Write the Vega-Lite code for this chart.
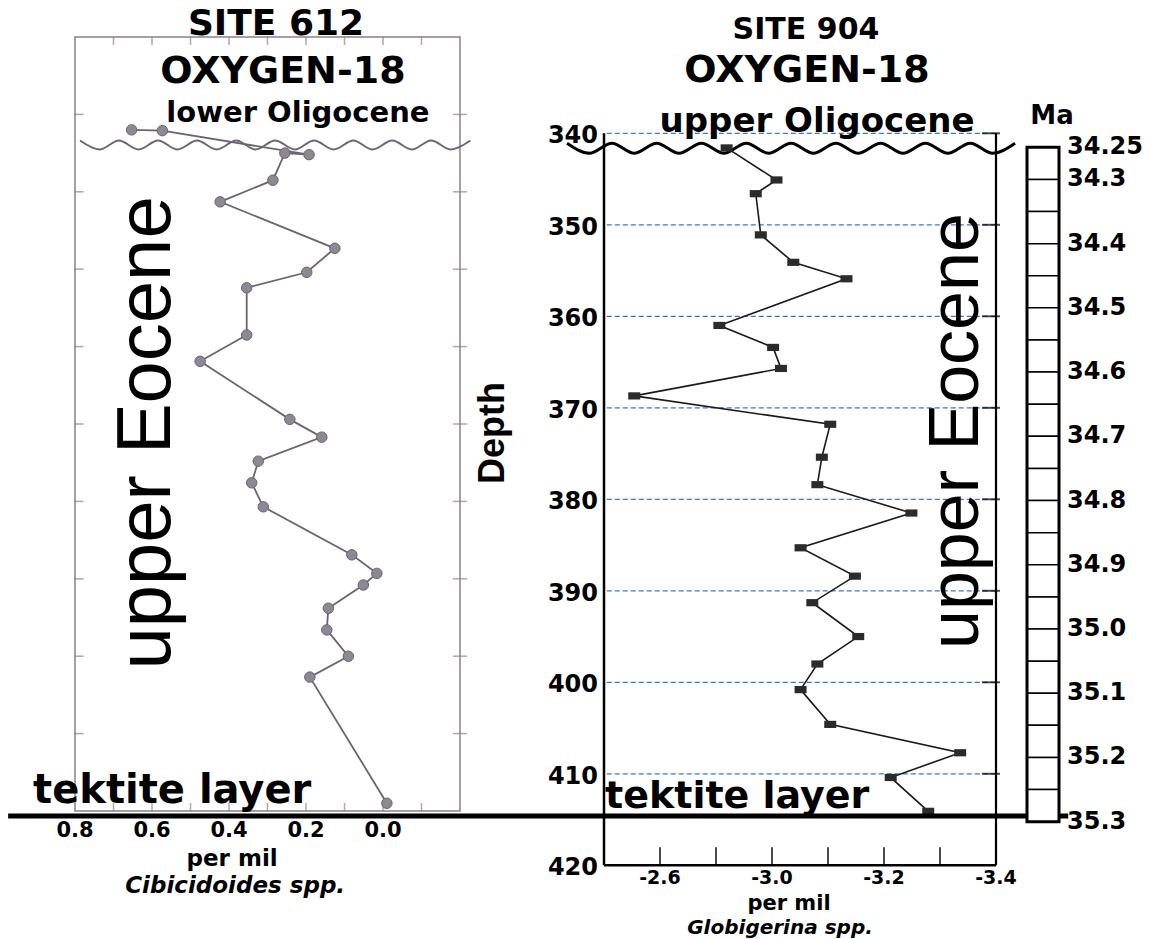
{
  "$schema": "https://vega.github.io/schema/vega-lite/v6.json",
  "width": 1173,
  "height": 939,
  "padding": 0,
  "autosize": {"type": "none"},
  "background": "white",
  "config": {
    "view": {"stroke": null},
    "text": {"font": "DejaVu Sans", "fontWeight": "bold", "color": "#000"}
  },
  "datasets": {
    "site612": [
      {"i": 1, "lvl": 1.20, "d18O": 0.653},
      {"i": 2, "lvl": 1.21, "d18O": 0.573},
      {"i": 3, "lvl": 1.52, "d18O": 0.192},
      {"i": 4, "lvl": 1.50, "d18O": 0.255},
      {"i": 5, "lvl": 1.85, "d18O": 0.286},
      {"i": 6, "lvl": 2.13, "d18O": 0.423},
      {"i": 7, "lvl": 2.73, "d18O": 0.125},
      {"i": 8, "lvl": 3.04, "d18O": 0.198},
      {"i": 9, "lvl": 3.24, "d18O": 0.354},
      {"i": 10, "lvl": 3.85, "d18O": 0.354},
      {"i": 11, "lvl": 4.19, "d18O": 0.475},
      {"i": 12, "lvl": 4.94, "d18O": 0.242},
      {"i": 13, "lvl": 5.17, "d18O": 0.159},
      {"i": 14, "lvl": 5.48, "d18O": 0.324},
      {"i": 15, "lvl": 5.76, "d18O": 0.341},
      {"i": 16, "lvl": 6.07, "d18O": 0.311},
      {"i": 17, "lvl": 6.69, "d18O": 0.081},
      {"i": 18, "lvl": 6.93, "d18O": 0.016},
      {"i": 19, "lvl": 7.08, "d18O": 0.051},
      {"i": 20, "lvl": 7.38, "d18O": 0.142},
      {"i": 21, "lvl": 7.66, "d18O": 0.146},
      {"i": 22, "lvl": 8.00, "d18O": 0.090},
      {"i": 23, "lvl": 8.27, "d18O": 0.190},
      {"i": 24, "lvl": 9.90, "d18O": -0.010}
    ],
    "site904": [
      {"i": 1, "depth": 341.6, "d18O": -2.919},
      {"i": 2, "depth": 345.1, "d18O": -3.008},
      {"i": 3, "depth": 346.6, "d18O": -2.971},
      {"i": 4, "depth": 351.1, "d18O": -2.980},
      {"i": 5, "depth": 354.1, "d18O": -3.038},
      {"i": 6, "depth": 355.9, "d18O": -3.133},
      {"i": 7, "depth": 361.0, "d18O": -2.906},
      {"i": 8, "depth": 363.4, "d18O": -3.002},
      {"i": 9, "depth": 365.7, "d18O": -3.016},
      {"i": 10, "depth": 368.7, "d18O": -2.754},
      {"i": 11, "depth": 371.8, "d18O": -3.104},
      {"i": 12, "depth": 375.4, "d18O": -3.089},
      {"i": 13, "depth": 378.4, "d18O": -3.081},
      {"i": 14, "depth": 381.5, "d18O": -3.249},
      {"i": 15, "depth": 385.3, "d18O": -3.051},
      {"i": 16, "depth": 388.4, "d18O": -3.148},
      {"i": 17, "depth": 391.3, "d18O": -3.072},
      {"i": 18, "depth": 395.0, "d18O": -3.154},
      {"i": 19, "depth": 398.0, "d18O": -3.081},
      {"i": 20, "depth": 400.8, "d18O": -3.051},
      {"i": 21, "depth": 404.6, "d18O": -3.104},
      {"i": 22, "depth": 407.7, "d18O": -3.336},
      {"i": 23, "depth": 410.4, "d18O": -3.212},
      {"i": 24, "depth": 414.1, "d18O": -3.279}
    ],
    "wave612": [
      {"i": 0, "v": 0.787, "lvl": 1.337}, {"i": 1, "v": 0.736, "lvl": 1.453},
      {"i": 2, "v": 0.686, "lvl": 1.337}, {"i": 3, "v": 0.635, "lvl": 1.453},
      {"i": 4, "v": 0.584, "lvl": 1.337}, {"i": 5, "v": 0.534, "lvl": 1.453},
      {"i": 6, "v": 0.483, "lvl": 1.337}, {"i": 7, "v": 0.432, "lvl": 1.453},
      {"i": 8, "v": 0.381, "lvl": 1.337}, {"i": 9, "v": 0.331, "lvl": 1.453},
      {"i": 10, "v": 0.280, "lvl": 1.337}, {"i": 11, "v": 0.229, "lvl": 1.453},
      {"i": 12, "v": 0.179, "lvl": 1.337}, {"i": 13, "v": 0.128, "lvl": 1.453},
      {"i": 14, "v": 0.077, "lvl": 1.337}, {"i": 15, "v": 0.027, "lvl": 1.453},
      {"i": 16, "v": -0.024, "lvl": 1.337}, {"i": 17, "v": -0.075, "lvl": 1.453},
      {"i": 18, "v": -0.125, "lvl": 1.337}, {"i": 19, "v": -0.176, "lvl": 1.453},
      {"i": 20, "v": -0.227, "lvl": 1.337}
    ],
    "wave904": [
      {"i": 0, "v": -2.634, "depth": 341.09}, {"i": 1, "v": -2.674, "depth": 342.19},
      {"i": 2, "v": -2.714, "depth": 341.09}, {"i": 3, "v": -2.754, "depth": 342.19},
      {"i": 4, "v": -2.794, "depth": 341.09}, {"i": 5, "v": -2.834, "depth": 342.19},
      {"i": 6, "v": -2.874, "depth": 341.09}, {"i": 7, "v": -2.914, "depth": 342.19},
      {"i": 8, "v": -2.954, "depth": 341.09}, {"i": 9, "v": -2.994, "depth": 342.19},
      {"i": 10, "v": -3.034, "depth": 341.09}, {"i": 11, "v": -3.074, "depth": 342.19},
      {"i": 12, "v": -3.114, "depth": 341.09}, {"i": 13, "v": -3.154, "depth": 342.19},
      {"i": 14, "v": -3.194, "depth": 341.09}, {"i": 15, "v": -3.234, "depth": 342.19},
      {"i": 16, "v": -3.274, "depth": 341.09}, {"i": 17, "v": -3.314, "depth": 342.19},
      {"i": 18, "v": -3.354, "depth": 341.09}, {"i": 19, "v": -3.394, "depth": 342.19},
      {"i": 20, "v": -3.434, "depth": 341.09}
    ],
    "maBoxes": [
      {"top": 34.25, "bot": 34.30}, {"top": 34.30, "bot": 34.35}, {"top": 34.35, "bot": 34.40},
      {"top": 34.40, "bot": 34.45}, {"top": 34.45, "bot": 34.50}, {"top": 34.50, "bot": 34.55},
      {"top": 34.55, "bot": 34.60}, {"top": 34.60, "bot": 34.65}, {"top": 34.65, "bot": 34.70},
      {"top": 34.70, "bot": 34.75}, {"top": 34.75, "bot": 34.80}, {"top": 34.80, "bot": 34.85},
      {"top": 34.85, "bot": 34.90}, {"top": 34.90, "bot": 34.95}, {"top": 34.95, "bot": 35.00},
      {"top": 35.00, "bot": 35.05}, {"top": 35.05, "bot": 35.10}, {"top": 35.10, "bot": 35.15},
      {"top": 35.15, "bot": 35.20}, {"top": 35.20, "bot": 35.25}, {"top": 35.25, "bot": 35.30}
    ],
    "maLabels": [
      {"ma": 34.25, "lab": "34.25"}, {"ma": 34.3, "lab": "34.3"}, {"ma": 34.4, "lab": "34.4"},
      {"ma": 34.5, "lab": "34.5"}, {"ma": 34.6, "lab": "34.6"}, {"ma": 34.7, "lab": "34.7"},
      {"ma": 34.8, "lab": "34.8"}, {"ma": 34.9, "lab": "34.9"}, {"ma": 35.0, "lab": "35.0"},
      {"ma": 35.1, "lab": "35.1"}, {"ma": 35.2, "lab": "35.2"}, {"ma": 35.3, "lab": "35.3"}
    ],
    "depthLabels": [
      {"d": 340, "lab": "340"}, {"d": 350, "lab": "350"}, {"d": 360, "lab": "360"},
      {"d": 370, "lab": "370"}, {"d": 380, "lab": "380"}, {"d": 390, "lab": "390"},
      {"d": 400, "lab": "400"}, {"d": 410, "lab": "410"}, {"d": 420, "lab": "420"}
    ],
    "x904Labels": [
      {"v": -2.8, "lab": "-2.6"}, {"v": -3.0, "lab": "-3.0"}, {"v": -3.2, "lab": "-3.2"}, {"v": -3.4, "lab": "-3.4"}
    ],
    "x612Labels": [
      {"v": 0.8, "lab": "0.8"}, {"v": 0.6, "lab": "0.6"}, {"v": 0.4, "lab": "0.4"}, {"v": 0.2, "lab": "0.2"}, {"v": 0.0, "lab": "0.0"}
    ]
  },
  "layer": [
    {
      "layer": [
        {
          "data": {"values": [{}]},
          "mark": {"type": "rect", "fill": "transparent", "stroke": "#8a8089", "strokeWidth": 1.5},
          "encoding": {
            "x": {"datum": 0.8, "type": "quantitative", "scale": {"domain": [0.8, -0.2], "range": [75, 460], "nice": false, "zero": false}, "axis": null},
            "x2": {"datum": -0.2},
            "y": {"datum": 0, "type": "quantitative", "scale": {"domain": [0, 10], "range": [37, 811], "nice": false, "zero": false}, "axis": null},
            "y2": {"datum": 10}
          }
        },
        {
          "data": {"values": [{"lvl": 1}, {"lvl": 2}, {"lvl": 3}, {"lvl": 4}, {"lvl": 5}, {"lvl": 6}, {"lvl": 7}, {"lvl": 8}, {"lvl": 9}]},
          "mark": {"type": "tick", "orient": "horizontal", "size": 9, "thickness": 1.5, "xOffset": 4, "color": "#8a8089"},
          "encoding": {"x": {"datum": 0.8, "type": "quantitative", "axis": null}, "y": {"field": "lvl", "type": "quantitative", "axis": null}}
        },
        {
          "data": {"values": [{"lvl": 1}, {"lvl": 2}, {"lvl": 3}, {"lvl": 4}, {"lvl": 5}, {"lvl": 6}, {"lvl": 7}, {"lvl": 8}, {"lvl": 9}]},
          "mark": {"type": "tick", "orient": "horizontal", "size": 14, "thickness": 1.5, "color": "#8a8089"},
          "encoding": {"x": {"datum": -0.2, "type": "quantitative", "axis": null}, "y": {"field": "lvl", "type": "quantitative", "axis": null}}
        },
        {
          "data": {"values": [{"v": 0.7}, {"v": 0.6}, {"v": 0.5}, {"v": 0.4}, {"v": 0.3}, {"v": 0.2}, {"v": 0.1}, {"v": 0.0}, {"v": -0.1}]},
          "mark": {"type": "tick", "orient": "vertical", "size": 8, "thickness": 1.5, "yOffset": 4, "color": "#8a8089"},
          "encoding": {"x": {"field": "v", "type": "quantitative", "axis": null}, "y": {"datum": 0, "type": "quantitative", "axis": null}}
        },
        {
          "data": {"values": [{"v": 0.7}, {"v": 0.6}, {"v": 0.5}, {"v": 0.4}, {"v": 0.3}, {"v": 0.2}, {"v": 0.1}, {"v": 0.0}, {"v": -0.1}]},
          "mark": {"type": "tick", "orient": "vertical", "size": 8, "thickness": 1.5, "yOffset": -4, "color": "#8a8089"},
          "encoding": {"x": {"field": "v", "type": "quantitative", "axis": null}, "y": {"datum": 10, "type": "quantitative", "axis": null}}
        },
        {
          "data": {"name": "wave612"},
          "mark": {"type": "line", "interpolate": "monotone", "stroke": "#6e6474", "strokeWidth": 2},
          "encoding": {"x": {"field": "v", "type": "quantitative", "axis": null}, "y": {"field": "lvl", "type": "quantitative", "axis": null}, "order": {"field": "i", "type": "quantitative"}}
        },
        {
          "data": {"name": "site612"},
          "mark": {"type": "line", "stroke": "#6a6372", "strokeWidth": 1.8},
          "encoding": {"x": {"field": "d18O", "type": "quantitative", "axis": null}, "y": {"field": "lvl", "type": "quantitative", "axis": null}, "order": {"field": "i", "type": "quantitative"}}
        },
        {
          "data": {"name": "site612"},
          "mark": {"type": "point", "shape": "circle", "filled": true, "size": 110, "fill": "#8d8893", "stroke": "#6a6372", "strokeWidth": 1, "opacity": 1},
          "encoding": {"x": {"field": "d18O", "type": "quantitative", "axis": null}, "y": {"field": "lvl", "type": "quantitative", "axis": null}}
        },
        {
          "data": {"name": "x612Labels"},
          "mark": {"type": "text", "fontSize": 21, "align": "center", "baseline": "middle", "yOffset": 20},
          "encoding": {"x": {"field": "v", "type": "quantitative", "axis": null}, "y": {"datum": 10, "type": "quantitative", "axis": null}, "text": {"field": "lab"}}
        },
        {
          "data": {"values": [{"t": "SITE 612", "xv": 0.278, "yv": -0.026}]},
          "mark": {"type": "text", "fontSize": 36, "align": "center", "baseline": "alphabetic"},
          "encoding": {"x": {"field": "xv", "type": "quantitative", "axis": null}, "y": {"field": "yv", "type": "quantitative", "axis": null}, "text": {"field": "t"}}
        },
        {
          "data": {"values": [{"t": "OXYGEN-18", "xv": 0.26, "yv": 0.594}]},
          "mark": {"type": "text", "fontSize": 38, "align": "center", "baseline": "alphabetic"},
          "encoding": {"x": {"field": "xv", "type": "quantitative", "axis": null}, "y": {"field": "yv", "type": "quantitative", "axis": null}, "text": {"field": "t"}}
        },
        {
          "data": {"values": [{"t": "lower Oligocene", "xv": 0.221, "yv": 1.098}]},
          "mark": {"type": "text", "fontSize": 29, "align": "center", "baseline": "alphabetic"},
          "encoding": {"x": {"field": "xv", "type": "quantitative", "axis": null}, "y": {"field": "yv", "type": "quantitative", "axis": null}, "text": {"field": "t"}}
        },
        {
          "data": {"values": [{"t": "upper Eocene", "xv": 0.553, "yv": 5.116}]},
          "mark": {"type": "text", "font": "Liberation Sans", "fontWeight": "normal", "fontSize": 76, "angle": 270, "align": "center", "baseline": "alphabetic"},
          "encoding": {"x": {"field": "xv", "type": "quantitative", "axis": null}, "y": {"field": "yv", "type": "quantitative", "axis": null}, "text": {"field": "t"}}
        },
        {
          "data": {"values": [{"t": "tektite layer", "xv": 0.909, "yv": 9.897}]},
          "mark": {"type": "text", "fontSize": 40, "align": "left", "baseline": "alphabetic"},
          "encoding": {"x": {"field": "xv", "type": "quantitative", "axis": null}, "y": {"field": "yv", "type": "quantitative", "axis": null}, "text": {"field": "t"}}
        },
        {
          "data": {"values": [{"t": "per mil", "xv": 0.392, "yv": 10.71}]},
          "mark": {"type": "text", "fontSize": 23, "align": "center", "baseline": "alphabetic"},
          "encoding": {"x": {"field": "xv", "type": "quantitative", "axis": null}, "y": {"field": "yv", "type": "quantitative", "axis": null}, "text": {"field": "t"}}
        },
        {
          "data": {"values": [{"t": "Cibicidoides spp.", "xv": 0.384, "yv": 11.06}]},
          "mark": {"type": "text", "fontSize": 23, "fontStyle": "italic", "align": "center", "baseline": "alphabetic"},
          "encoding": {"x": {"field": "xv", "type": "quantitative", "axis": null}, "y": {"field": "yv", "type": "quantitative", "axis": null}, "text": {"field": "t"}}
        }
      ]
    },
    {
      "layer": [
        {
          "data": {"values": [{"d": 340}, {"d": 350}, {"d": 360}, {"d": 370}, {"d": 380}, {"d": 390}, {"d": 400}, {"d": 410}]},
          "mark": {"type": "rule", "stroke": "#3b78c6", "strokeWidth": 1.3, "strokeDash": [5, 3]},
          "encoding": {
            "x": {"datum": -2.705, "type": "quantitative", "scale": {"domain": [-2.7, -3.4], "range": [604, 996], "nice": false, "zero": false}, "axis": null},
            "x2": {"datum": -3.4},
            "y": {"field": "d", "type": "quantitative", "scale": {"domain": [340, 420], "range": [133.3, 865.3], "nice": false, "zero": false}, "axis": null}
          }
        },
        {
          "data": {"values": [{}]},
          "mark": {"type": "rule", "stroke": "#000", "strokeWidth": 2.5},
          "encoding": {"x": {"datum": -2.7, "type": "quantitative", "axis": null}, "y": {"datum": 340, "type": "quantitative", "axis": null}, "y2": {"datum": 420}}
        },
        {
          "data": {"values": [{}]},
          "mark": {"type": "rule", "stroke": "#000", "strokeWidth": 2.2},
          "encoding": {"x": {"datum": -3.4, "type": "quantitative", "axis": null}, "y": {"datum": 340, "type": "quantitative", "axis": null}, "y2": {"datum": 420}}
        },
        {
          "data": {"values": [{}]},
          "mark": {"type": "rule", "stroke": "#000", "strokeWidth": 2.5},
          "encoding": {"x": {"datum": -2.7, "type": "quantitative", "axis": null}, "x2": {"datum": -3.4}, "y": {"datum": 420, "type": "quantitative", "axis": null}}
        },
        {
          "data": {"values": [{"d": 340}, {"d": 350}, {"d": 360}, {"d": 370}, {"d": 380}, {"d": 390}, {"d": 400}, {"d": 410}]},
          "mark": {"type": "tick", "orient": "horizontal", "size": 18, "thickness": 2, "xOffset": -5, "color": "#000"},
          "encoding": {"x": {"datum": -3.4, "type": "quantitative", "axis": null}, "y": {"field": "d", "type": "quantitative", "axis": null}}
        },
        {
          "data": {"values": [{"v": -2.8}, {"v": -2.9}, {"v": -3.0}, {"v": -3.1}, {"v": -3.2}, {"v": -3.3}]},
          "mark": {"type": "tick", "orient": "vertical", "size": 18, "thickness": 2, "yOffset": -9, "color": "#000"},
          "encoding": {"x": {"field": "v", "type": "quantitative", "axis": null}, "y": {"datum": 420, "type": "quantitative", "axis": null}}
        },
        {
          "data": {"name": "depthLabels"},
          "mark": {"type": "text", "fontSize": 24, "align": "right", "baseline": "middle", "xOffset": -6, "yOffset": 3},
          "encoding": {"x": {"datum": -2.7, "type": "quantitative", "axis": null}, "y": {"field": "d", "type": "quantitative", "axis": null}, "text": {"field": "lab"}}
        },
        {
          "data": {"name": "x904Labels"},
          "mark": {"type": "text", "fontSize": 19, "align": "center", "baseline": "middle", "yOffset": 13},
          "encoding": {"x": {"field": "v", "type": "quantitative", "axis": null}, "y": {"datum": 420, "type": "quantitative", "axis": null}, "text": {"field": "lab"}}
        },
        {
          "data": {"name": "wave904"},
          "mark": {"type": "line", "interpolate": "monotone", "stroke": "#000", "strokeWidth": 3},
          "encoding": {"x": {"field": "v", "type": "quantitative", "axis": null}, "y": {"field": "depth", "type": "quantitative", "axis": null}, "order": {"field": "i", "type": "quantitative"}}
        },
        {
          "data": {"name": "site904"},
          "mark": {"type": "line", "stroke": "#1a1a1a", "strokeWidth": 1.6},
          "encoding": {"x": {"field": "d18O", "type": "quantitative", "axis": null}, "y": {"field": "depth", "type": "quantitative", "axis": null}, "order": {"field": "i", "type": "quantitative"}}
        },
        {
          "data": {"name": "site904"},
          "mark": {"type": "point", "shape": "M-1,-0.6H1V0.6H-1Z", "filled": true, "size": 144, "fill": "#2b2b2b", "opacity": 1},
          "encoding": {"x": {"field": "d18O", "type": "quantitative", "axis": null}, "y": {"field": "depth", "type": "quantitative", "axis": null}}
        },
        {
          "data": {"values": [{}]},
          "mark": {"type": "rule", "stroke": "#000", "strokeWidth": 5},
          "encoding": {"x": {"datum": -1.636, "type": "quantitative", "axis": null}, "x2": {"datum": -3.529}, "y": {"datum": 414.6, "type": "quantitative", "axis": null}}
        },
        {
          "data": {"values": [{"t": "SITE 904", "xv": -3.0607, "yv": 329.69}]},
          "mark": {"type": "text", "fontSize": 30, "align": "center", "baseline": "alphabetic"},
          "encoding": {"x": {"field": "xv", "type": "quantitative", "axis": null}, "y": {"field": "yv", "type": "quantitative", "axis": null}, "text": {"field": "t"}}
        },
        {
          "data": {"values": [{"t": "OXYGEN-18", "xv": -3.0625, "yv": 334.39}]},
          "mark": {"type": "text", "fontSize": 38, "align": "center", "baseline": "alphabetic"},
          "encoding": {"x": {"field": "xv", "type": "quantitative", "axis": null}, "y": {"field": "yv", "type": "quantitative", "axis": null}, "text": {"field": "t"}}
        },
        {
          "data": {"values": [{"t": "upper Oligocene", "xv": -3.0804, "yv": 339.86}]},
          "mark": {"type": "text", "fontSize": 34, "align": "center", "baseline": "alphabetic"},
          "encoding": {"x": {"field": "xv", "type": "quantitative", "axis": null}, "y": {"field": "yv", "type": "quantitative", "axis": null}, "text": {"field": "t"}}
        },
        {
          "data": {"values": [{"t": "Depth", "xv": -2.5214, "yv": 372.75}]},
          "mark": {"type": "text", "font": "Liberation Sans", "fontSize": 36, "angle": 270, "align": "center", "baseline": "alphabetic"},
          "encoding": {"x": {"field": "xv", "type": "quantitative", "axis": null}, "y": {"field": "yv", "type": "quantitative", "axis": null}, "text": {"field": "t"}}
        },
        {
          "data": {"values": [{"t": "upper Eocene", "xv": -3.3679, "yv": 372.54}]},
          "mark": {"type": "text", "font": "Liberation Sans", "fontWeight": "normal", "fontSize": 70, "angle": 270, "align": "center", "baseline": "alphabetic"},
          "encoding": {"x": {"field": "xv", "type": "quantitative", "axis": null}, "y": {"field": "yv", "type": "quantitative", "axis": null}, "text": {"field": "t"}}
        },
        {
          "data": {"values": [{"t": "tektite layer", "xv": -2.7018, "yv": 413.7}]},
          "mark": {"type": "text", "fontSize": 38, "align": "left", "baseline": "alphabetic"},
          "encoding": {"x": {"field": "xv", "type": "quantitative", "axis": null}, "y": {"field": "yv", "type": "quantitative", "axis": null}, "text": {"field": "t"}}
        },
        {
          "data": {"values": [{"t": "per mil", "xv": -3.0304, "yv": 424.885}]},
          "mark": {"type": "text", "fontSize": 21, "align": "center", "baseline": "alphabetic"},
          "encoding": {"x": {"field": "xv", "type": "quantitative", "axis": null}, "y": {"field": "yv", "type": "quantitative", "axis": null}, "text": {"field": "t"}}
        },
        {
          "data": {"values": [{"t": "Globigerina spp.", "xv": -3.0143, "yv": 427.53}]},
          "mark": {"type": "text", "fontSize": 20, "fontStyle": "italic", "align": "center", "baseline": "alphabetic"},
          "encoding": {"x": {"field": "xv", "type": "quantitative", "axis": null}, "y": {"field": "yv", "type": "quantitative", "axis": null}, "text": {"field": "t"}}
        }
      ]
    },
    {
      "layer": [
        {
          "data": {"name": "maBoxes"},
          "mark": {"type": "rect", "fill": "white", "stroke": "#000", "strokeWidth": 1.5},
          "encoding": {
            "x": {"datum": 0, "type": "quantitative", "scale": {"domain": [0, 1], "range": [1027, 1059], "nice": false, "zero": false}, "axis": null},
            "x2": {"datum": 1},
            "y": {"field": "top", "type": "quantitative", "scale": {"domain": [34.25, 35.3], "range": [147.3, 821.7], "nice": false, "zero": false}, "axis": null},
            "y2": {"field": "bot"}
          }
        },
        {
          "data": {"values": [{}]},
          "mark": {"type": "rect", "fill": "transparent", "stroke": "#000", "strokeWidth": 3},
          "encoding": {"x": {"datum": 0, "type": "quantitative", "axis": null}, "x2": {"datum": 1}, "y": {"datum": 34.25, "type": "quantitative", "axis": null}, "y2": {"datum": 35.3}}
        },
        {
          "data": {"name": "maLabels"},
          "mark": {"type": "text", "fontSize": 24, "align": "left", "baseline": "middle", "xOffset": 8},
          "encoding": {"x": {"datum": 1, "type": "quantitative", "axis": null}, "y": {"field": "ma", "type": "quantitative", "axis": null}, "text": {"field": "lab"}}
        },
        {
          "data": {"values": [{"t": "Ma", "xv": 0.78, "yv": 34.2136}]},
          "mark": {"type": "text", "fontSize": 26, "align": "center", "baseline": "alphabetic"},
          "encoding": {"x": {"field": "xv", "type": "quantitative", "axis": null}, "y": {"field": "yv", "type": "quantitative", "axis": null}, "text": {"field": "t"}}
        }
      ]
    }
  ],
  "resolve": {"scale": {"x": "independent", "y": "independent"}}
}
